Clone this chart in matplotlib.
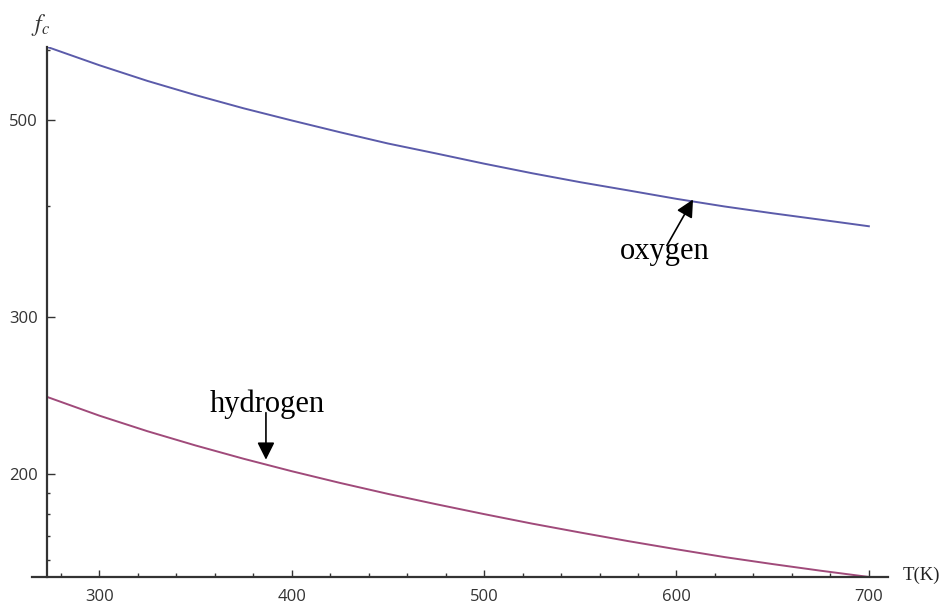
import matplotlib
matplotlib.use("Agg")
import matplotlib.pyplot as plt
from matplotlib.ticker import FixedLocator, NullFormatter, FixedFormatter

plt.rcParams["mathtext.fontset"] = "stix"

# values (log y axis)
T = [273, 300, 325, 350, 375, 400, 425, 450, 475, 500, 525, 550, 575, 600, 625, 650, 675, 700]
oxygen = [605, 577, 554, 534, 516, 500, 485, 471, 459, 447, 436, 426, 417, 408, 400, 393, 386.5, 380]
hydrogen = [244, 232.5, 223.3, 215.2, 207.9, 201.3, 195.3, 189.8, 184.8, 180.1, 175.7,
            171.7, 167.9, 164.4, 161.1, 158.2, 155.5, 153]

x_major = [300, 400, 500, 600, 700]
x_minor = [280, 320, 340, 360, 380, 420, 440, 460, 480, 520, 540, 560, 580, 620, 640, 660, 680]
y_major = [200, 300, 500]
y_minor = [160, 170, 180, 190, 400, 600]

fig = plt.figure(figsize=(9.47, 6.06), dpi=100)
ax = fig.add_axes([0.0338, 0.0479, 0.904, 0.8746])

ax.plot(T, oxygen, color="#5b5baa", lw=1.4)
ax.plot(T, hydrogen, color="#a04a7a", lw=1.4)

ax.set_yscale("log")
ax.set_xlim(265, 710)
ax.set_ylim(153, 605)

# Mathematica-style axes crossing at the data origin
for s in ["top", "right"]:
    ax.spines[s].set_visible(False)
ax.spines["left"].set_position(("data", 273))
ax.spines["left"].set_bounds(153, 605)
for s in ["left", "bottom"]:
    ax.spines[s].set_color("#333333")
    ax.spines[s].set_linewidth(1.6)

ax.xaxis.set_major_locator(FixedLocator(x_major))
ax.xaxis.set_minor_locator(FixedLocator(x_minor))
ax.xaxis.set_major_formatter(FixedFormatter([str(v) for v in x_major]))
ax.yaxis.set_major_locator(FixedLocator(y_major))
ax.yaxis.set_minor_locator(FixedLocator(y_minor))
ax.yaxis.set_major_formatter(FixedFormatter([str(v) for v in y_major]))
ax.yaxis.set_minor_formatter(NullFormatter())

ax.tick_params(which="both", direction="in", color="#333333", width=1.0,
               labelsize=12, labelcolor="#333333")
ax.tick_params(axis="x", which="major", length=5, pad=9)
ax.tick_params(axis="x", which="minor", length=3)
ax.tick_params(axis="y", which="major", length=6, pad=7)
ax.tick_params(axis="y", which="minor", length=2.5)
for lab in ax.get_xticklabels() + ax.get_yticklabels():
    lab.set_family("Open Sans")

# annotations
serif = "Liberation Serif"
arrow = dict(arrowstyle="-|>,head_length=0.7,head_width=0.35",
             mutation_scale=15, lw=1.2, color="k", shrinkA=0, shrinkB=0)
ax.text(387.4, 235, "hydrogen", ha="center", va="baseline", fontsize=22, family=serif)
ax.annotate("", xy=(386.6, 207.4), xytext=(386.6, 234.3), arrowprops=arrow)
ax.text(593.7, 349.4, "oxygen", ha="center", va="baseline", fontsize=22, family=serif)
ax.annotate("", xy=(608.6, 407.3), xytext=(595, 361.4), arrowprops=arrow)

fig.text(41 / 947, 1 - 25 / 606, "$f_c$", ha="center", va="center", fontsize=17, color="#333333")
fig.text(903 / 947, 1 - 575 / 606, "T(K)", ha="left", va="center", fontsize=13.5,
         family=serif, color="#222222")

fig.savefig("out.png", dpi=100)
